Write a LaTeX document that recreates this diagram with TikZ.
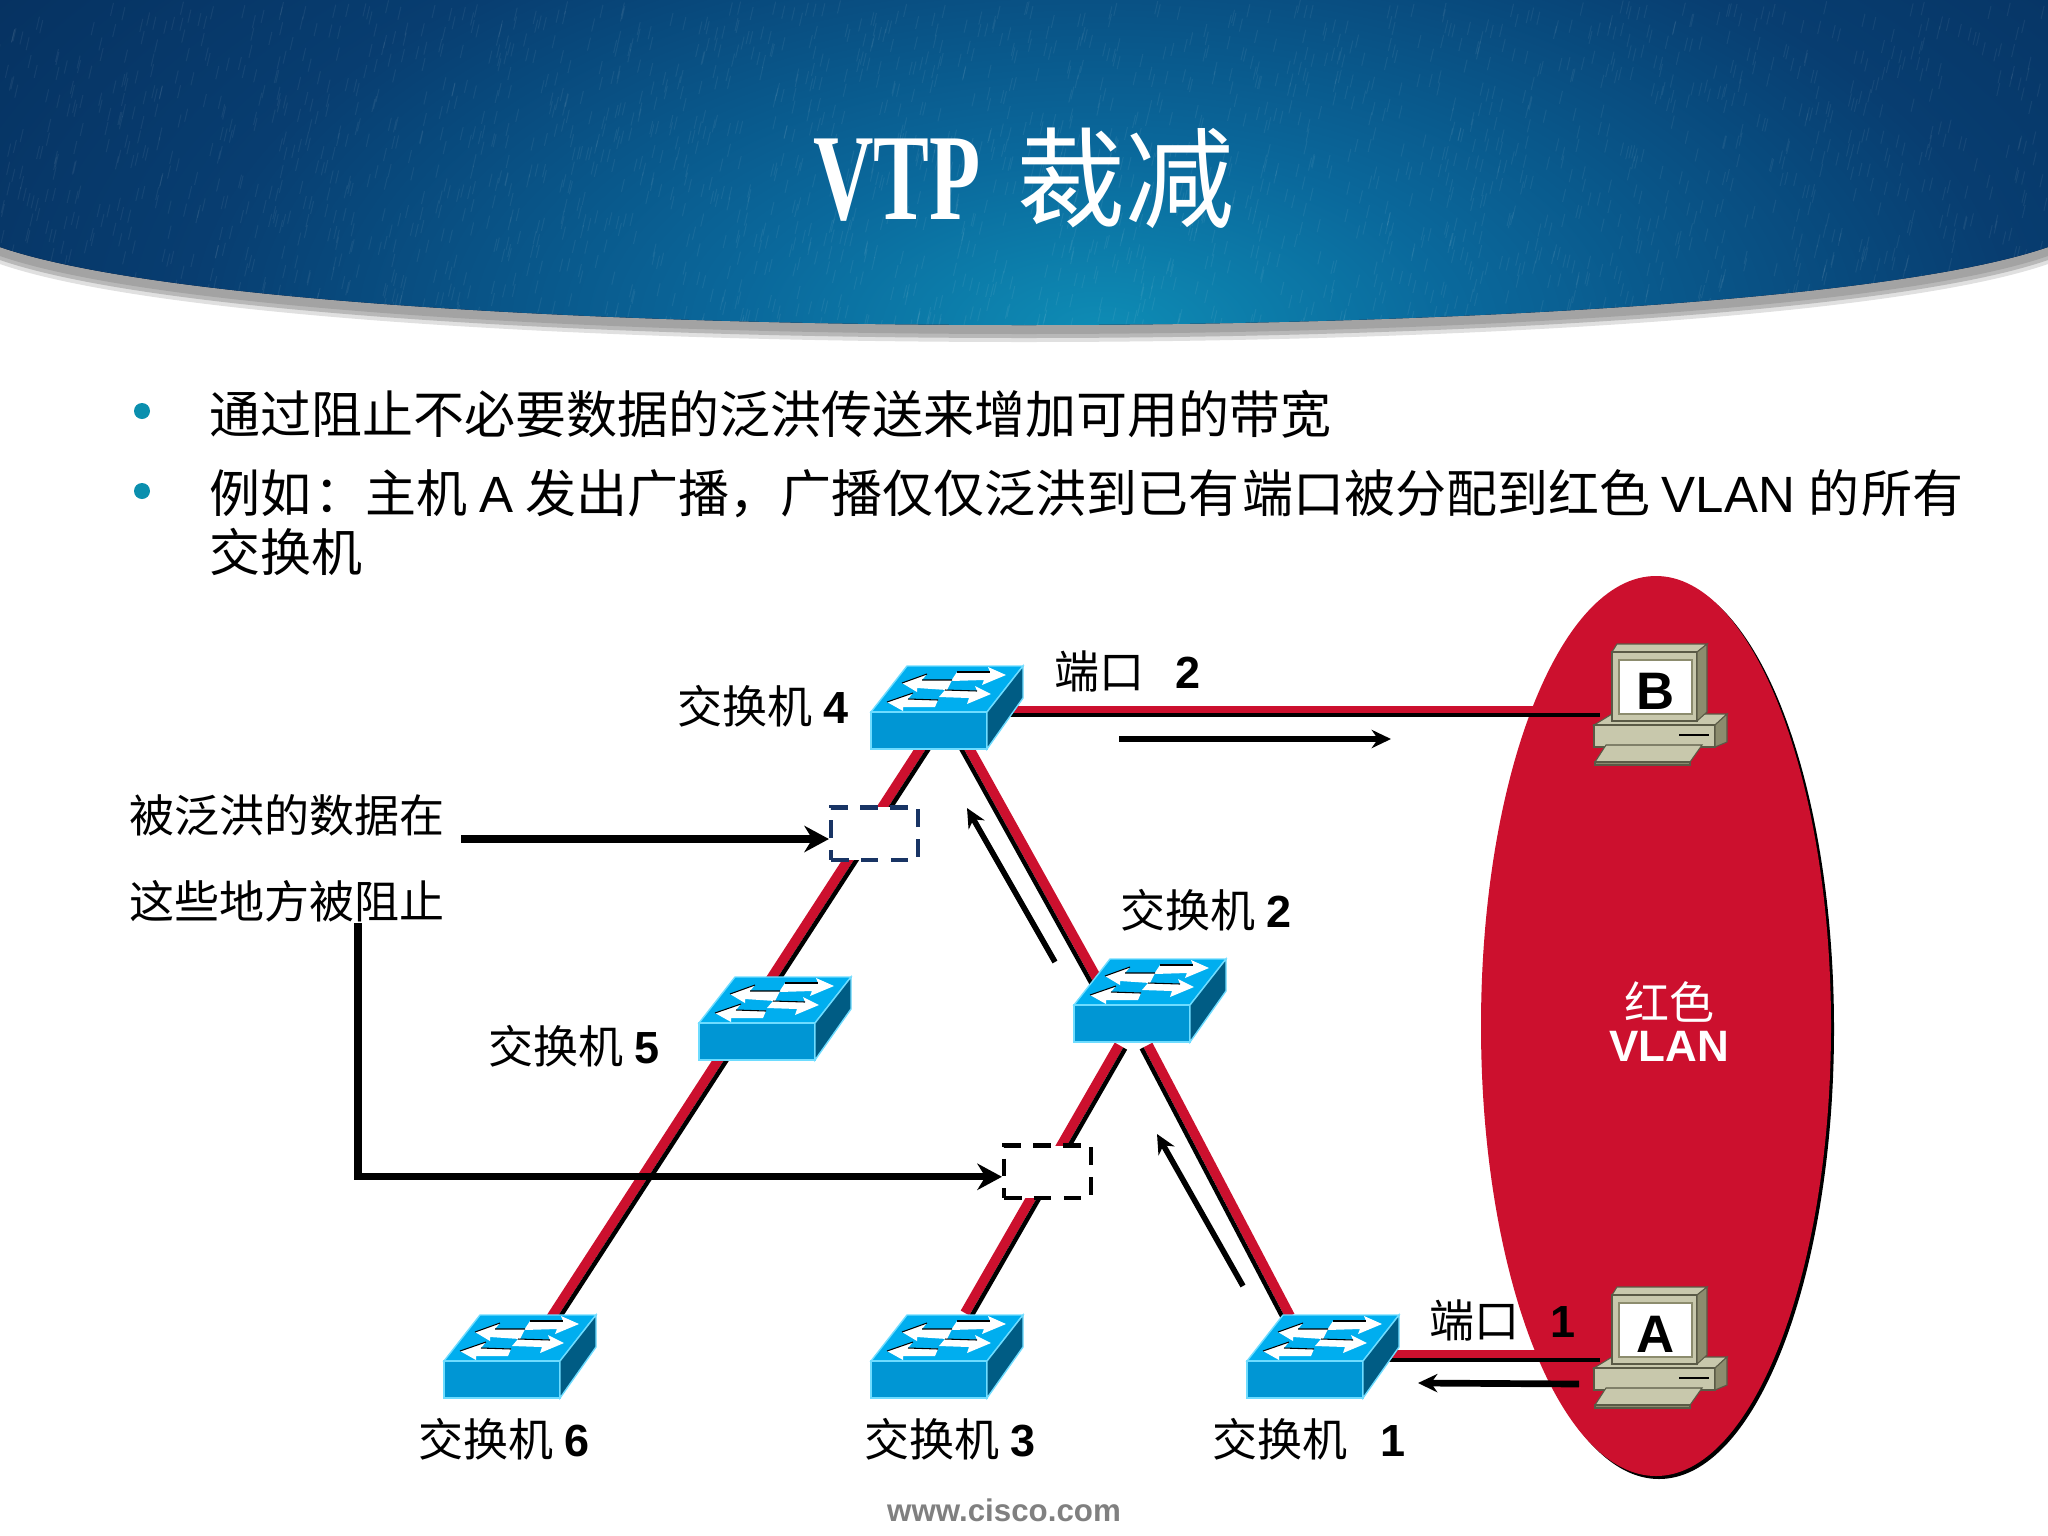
\documentclass[tikz,border=0pt]{standalone}
\usepackage{fontspec}
\setmainfont{Noto Sans CJK SC}
\newfontfamily\latfont{Liberation Sans}
\newfontfamily\titlefont{Liberation Serif}
\usepackage{tikz}
\usetikzlibrary{arrows.meta}
\usetikzlibrary{positioning}
\definecolor{vlanred}{RGB}{204,16,46}
\definecolor{swtop}{RGB}{0,174,239}
\definecolor{swfront}{RGB}{0,150,212}
\definecolor{swside}{RGB}{0,92,132}
\definecolor{swedge}{RGB}{110,220,255}
\definecolor{pcbeige}{RGB}{200,200,172}
\definecolor{pcside}{RGB}{140,140,110}
\definecolor{pcedge}{RGB}{90,90,70}
\definecolor{bullteal}{RGB}{10,143,174}
\definecolor{boxnavy}{RGB}{24,52,100}
\definecolor{banddark}{RGB}{0,15,45}
\pgfdeclareradialshading{bandshade}{\pgfpoint{0bp}{0bp}}{
rgb(0bp)=(0.055,0.55,0.71);
rgb(6.4bp)=(0.04,0.41,0.61);
rgb(16.3bp)=(0.03,0.24,0.44);
rgb(25.5bp)=(0.02,0.18,0.36);
rgb(31bp)=(0.01,0.11,0.27);
rgb(35.4bp)=(0.00,0.06,0.18);
rgb(50bp)=(0.00,0.06,0.18)}
\tikzset{
  x=0.01cm,y=-0.01cm,
  redlink/.style={draw=vlanred,line width=2.2pt},
  diaglink/.style={draw=vlanred,line width=2.8pt},
  blacklink/.style={draw=black,line width=1.25pt},
  thickarrow/.style={draw=black,line width=2pt,-{Stealth[length=7pt,width=7.5pt]}},
  flowarrow/.style={draw=black,line width=1.6pt,-{Stealth[length=5.5pt,width=5.2pt]}},
  zhlabel/.style={font=\fontsize{12.8}{14}\selectfont,anchor=west,inner sep=0pt},
  bodytext/.style={font=\fontsize{14.5}{16}\selectfont,anchor=west,inner sep=0pt},
  blockbox/.style={fill=white,minimum width=0.87cm,minimum height=0.52cm,inner sep=0pt,line width=1.15pt,dash pattern=on 5pt off 3.5pt},
  pics/switchicon/.style={code={
    \draw[fill=swtop,draw=swedge,line width=0.4pt] (0,0) -- (36,-46) -- (152,-46) -- (116,0) -- cycle;
    \draw[fill=swfront,draw=swedge,line width=0.4pt] (0,0) rectangle (116,37);
    \draw[fill=swside,draw=swedge,line width=0.4pt] (116,0) -- (152,-46) -- (152,-14) -- (116,37) -- cycle;
    \fill[white] (86,-40) -- (119,-40) -- (117,-45) -- (135,-37) -- (111,-27) -- (113,-32) -- (80,-31) -- cycle;
    \fill[white] (74,-22) -- (106,-21) -- (104,-26) -- (120,-18) -- (96,-8) -- (98,-14) -- (68,-15) -- cycle;
    \fill[white] (31,-29) -- (56,-38) -- (51,-32) -- (81,-32) -- (76,-22) -- (46,-24) -- (46,-20) -- cycle;
    \fill[white] (16,-10) -- (42,-19) -- (37,-13) -- (67,-12) -- (64,-5) -- (32,-5) -- (32,-1) -- cycle;
    \draw[black,line width=0.3pt] (86,-40) -- (119,-40);
    \draw[black,line width=0.3pt] (74,-22) -- (106,-21);
    \draw[black,line width=0.3pt] (31,-29) -- (56,-38) (51,-32) -- (81,-32);
    \draw[black,line width=0.3pt] (16,-10) -- (42,-19) (37,-13) -- (67,-12);
  }},
  pics/pcicon/.style={code={
    \draw[fill=pcbeige,draw=pcedge,line width=0.3pt] (-18,81) -- (0,70) -- (115,70) -- (103,81) -- cycle;
    \draw[fill=pcbeige,draw=pcedge,line width=0.3pt] (-18,81) rectangle (103,103);
    \draw[fill=pcside,draw=pcedge,line width=0.3pt] (103,81) -- (115,70) -- (115,98) -- (103,103) -- cycle;
    \draw[black,line width=0.5pt] (67,91) -- (97,91);
    \draw[fill=pcbeige,draw=pcedge,line width=0.3pt] (0,8) -- (5,0) -- (95,0) -- (85,8) -- cycle;
    \draw[fill=pcbeige,draw=pcedge,line width=0.3pt] (0,8) rectangle (85,77);
    \draw[fill=pcside,draw=pcedge,line width=0.3pt] (85,8) -- (95,0) -- (95,68) -- (85,77) -- cycle;
    \draw[fill=white,draw=pcside,line width=0.5pt] (7,16) rectangle (80,70);
    \draw[fill=pcbeige,draw=pcedge,line width=0.3pt] (-6,101) -- (90,101) -- (78,118) -- (-17,118) -- cycle;
    \draw[fill=pcside,draw=pcedge,line width=0.3pt] (-17,118) rectangle (78,121);
    \node[font=\latfont\bfseries\fontsize{15}{17}\selectfont,inner sep=0pt] at (43.5,47) {#1};
  }},
}
\begin{document}
\begin{tikzpicture}
\path[fill=white,use as bounding box] (0,0) rectangle (2048,1536);
\fill[black!12] (0,0) -- (0,264) .. controls (300,368) and (1748,368) .. (2048,264) -- (2048,0) -- cycle;
\fill[black!28] (0,0) -- (0,260) .. controls (300,364) and (1748,364) .. (2048,260) -- (2048,0) -- cycle;
\fill[black!36] (0,0) -- (0,256) .. controls (300,360) and (1748,360) .. (2048,256) -- (2048,0) -- cycle;
\begin{scope}
\clip (0,0) -- (0,247) .. controls (300,351) and (1748,351) .. (2048,247) -- (2048,0) -- cycle;
\fill[banddark] (0,0) rectangle (2048,360);
\shade[shading=bandshade] (1100,330) ellipse (1400 and 700);
\pgfmathsetseed{7}
\foreach \i in {1,...,2400}{
  \pgfmathsetmacro\tx{rnd*2048}
  \pgfmathsetmacro\ty{rnd*340}
  \draw[white,opacity=0.06,line width=0.3pt] (\tx,\ty) -- ++(-3,13);
}
\end{scope}
\node (title) at (1024,178) {\scalebox{0.68}[1]{\titlefont\bfseries\fontsize{35}{38}\selectfont\textcolor{white}{VTP}}\hspace{0.36cm}\textcolor{white}{\fontsize{31}{34}\selectfont 裁减}};

\fill[bullteal] (142,411) circle (8);
\fill[bullteal] (142,491) circle (8);
\node[bodytext] (line1) at (209,414) {通过阻止不必要数据的泛洪传送来增加可用的带宽};
\node[bodytext] (line2) at (209,494) {例如\hspace{0.03cm}：主机 {\latfont A}\hspace{0.01cm} 发出广播，广播仅仅泛洪到已有\hspace{0.03cm}端口被分配到红色 {\latfont VLAN}\hspace{0.02cm} 的\hspace{0.02cm}所有};
\node[bodytext] (line3) at (209,552) {交换机};

\fill[black] (1659,1029) ellipse (175 and 450);
\fill[vlanred] (1656,1026) ellipse (175 and 450);

\coordinate (sw4r) at (959,730);
\coordinate (sw2t) at (1100,984);
\coordinate (sw4l) at (946,709);
\coordinate (sw6t) at (543,1330);
\coordinate (sw2l) at (1119,1045);
\coordinate (sw3t) at (965,1313);
\coordinate (sw2b) at (1148,1045);
\coordinate (sw1t) at (1290,1316);
\coordinate (sw4e) at (1000,709.5);
\coordinate (pcB) at (1600,709.5);
\coordinate (sw1e) at (1380,1354);
\coordinate (pcA) at (1600,1354);

\draw[diaglink] (sw4r) -- (sw2t);
\draw[blacklink] ([shift={(-6.3,3.5)}]sw4r) -- ([shift={(-6.3,3.5)}]sw2t);
\draw[diaglink] (sw4l) -- (sw6t);
\draw[blacklink] ([shift={(6,3.9)}]sw4l) -- ([shift={(6,3.9)}]sw6t);
\draw[diaglink] (sw2l) -- (sw3t);
\draw[blacklink] ([shift={(6.2,3.6)}]sw2l) -- ([shift={(6.2,3.6)}]sw3t);
\draw[diaglink] (sw2b) -- (sw1t);
\draw[blacklink] ([shift={(-6.4,3.3)}]sw2b) -- ([shift={(-6.4,3.3)}]sw1t);
\draw[redlink] (sw4e) -- (pcB);
\draw[blacklink] ([yshift=-1.6pt]sw4e) -- ([yshift=-1.6pt]pcB);
\draw[redlink] (sw1e) -- (pcA);
\draw[blacklink] ([yshift=-1.7pt]sw1e) -- ([yshift=-1.7pt]pcA);

\pic (sw4) at (871,712) {switchicon};
\pic (sw2) at (1074,1005) {switchicon};
\pic (sw5) at (699,1023) {switchicon};
\pic (sw6) at (444,1361) {switchicon};
\pic (sw3) at (871,1361) {switchicon};
\pic (sw1) at (1247,1361) {switchicon};
\pic (pca) at (1612,1287) {pcicon=A};
\pic (pcb) at (1612,644) {pcicon=B};

\node[blockbox,draw=boxnavy] (blocktop) at (874.5,833.5) {};
\node[blockbox,draw=black] (blockbot) at (1047.5,1171.5) {};

\node[zhlabel,anchor=center] (floodA) at (287,815) {被泛洪的数据在};
\node[zhlabel,anchor=center] (floodB) at (287,901) {这些地方被阻止};
\coordinate (arrtop) at (461,839);
\coordinate (arrbot) at (358,923);
\draw[thickarrow] (arrtop) -- (arrtop -| blocktop.west);
\draw[thickarrow] (arrbot) |- ([yshift=-1.5pt]blockbot.west);

\coordinate (flowBs) at (1119,739);
\coordinate (flowBe) at (1391,739);
\coordinate (flowCs) at (1055,962);
\coordinate (flowCe) at (967,808);
\coordinate (flowDs) at (1243,1286);
\coordinate (flowDe) at (1157,1134);
\coordinate (flowEs) at (1579,1384);
\coordinate (flowEe) at (1418,1383);
\draw[flowarrow] (flowBs) -- (flowBe);
\draw[flowarrow] (flowCs) -- (flowCe);
\draw[flowarrow] (flowDs) -- (flowDe);
\draw[flowarrow,line width=1.9pt] (flowEs) -- (flowEe);

\node[zhlabel] (lab4) at (677,706) {交换机\hspace{0.005cm} {\latfont\bfseries 4}};
\node[zhlabel] (lab2) at (1120,910) {交换机\hspace{0.005cm} {\latfont\bfseries 2}};
\node[zhlabel] (lab5) at (488,1046) {交换机\hspace{0.01cm} {\latfont\bfseries 5}};
\node[zhlabel] (lab6) at (418,1439) {交换机\hspace{0.01cm} {\latfont\bfseries 6}};
\node[zhlabel] (lab3) at (864,1439) {交换机\hspace{0.005cm} {\latfont\bfseries 3}};
\node[zhlabel] (lab1) at (1212,1439) {交换机\hspace{0.33cm}{\latfont\bfseries 1}};
\node[zhlabel] (port2) at (1054,671) {端口\hspace{0.31cm}{\latfont\bfseries 2}};
\node[zhlabel] (port1) at (1429,1320) {端口\hspace{0.31cm}{\latfont\bfseries 1}};
\node[zhlabel,anchor=center,text=white] (vlanzh) at (1669,1002) {红色};
\node[anchor=center,inner sep=0pt,text=white,font=\latfont\bfseries\fontsize{12.5}{14}\selectfont] (vlanen) at (1669,1046) {VLAN};
\node[anchor=center,inner sep=0pt,text=black!50,font=\latfont\bfseries\fontsize{8.9}{10}\selectfont] (site) at (1004,1510) {www.cisco.com};
\end{tikzpicture}
\end{document}
